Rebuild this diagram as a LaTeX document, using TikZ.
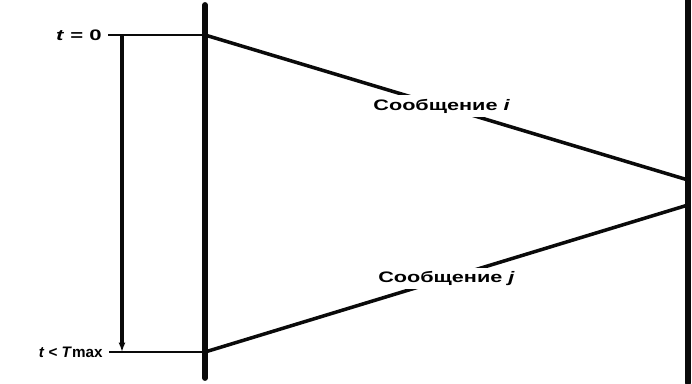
\documentclass[tikz,border=0pt]{standalone}
\usepackage{fontspec}
\setmainfont{Liberation Sans}
\usetikzlibrary{arrows.meta,calc,positioning}
\definecolor{InkCol}{RGB}{10,10,10}
\tikzset{
  lifeline/.style={line width=5.0pt, draw=InkCol, line cap=round},
  tickline/.style={line width=1.9pt, draw=InkCol},
  spanline/.style={-{Latex[length=8pt,width=6pt]}, line width=2.6pt, draw=InkCol},
  msgline/.style={line width=3.0pt, draw=InkCol},
  msglab/.style={fill=white, inner sep=3pt, font=\fontsize{13}{14}\selectfont\bfseries},
  timelab/.style={anchor=east, inner sep=1pt, font=\fontsize{13}{14}\selectfont\bfseries}
}
\newcommand{\Wide}[1]{\scalebox{1.45}[1]{#1}}
\newcommand{\Wider}[1]{\scalebox{1.42}[1]{#1}}

\begin{document}
\begin{tikzpicture}[x=0.03cm,y=-0.03cm]
  \useasboundingbox (0,0) rectangle (692,383);
  % processes
  \coordinate (Ltop) at (205,5);
  \coordinate (Lbot) at (205,378);
  \coordinate (Rtop) at (688,0);
  \coordinate (Rbot) at (688,383);
  \draw[lifeline] (Ltop) -- (Lbot);
  \draw[lifeline] (Rtop) -- (Rbot);
  % time marks
  \node[timelab] (tstart) at (103,35) {\Wide{\textit{t} = 0}};
  \node[timelab] (tend) at (104,352) {\textit{t} < \textit{T}max};
  \coordinate (Sa) at (205,35);
  \coordinate (Sb) at (205,352);
  \draw[tickline] (tstart.east) ++(5,0) -- (Sa);
  \draw[tickline] (tend.east) ++(5,0) -- (Sb);
  \draw[spanline] (122,35) -- (122,352);
  % messages
  \coordinate (Ra) at (688,180);
  \coordinate (Rb) at (688,205);
  \draw[msgline] (Sa) -- (Ra) node[msglab,pos=0.49] (mi) {\Wider{Сообщение \textit{i}}};
  \draw[msgline] (Rb) -- (Sb) node[msglab,pos=0.5] (mj) {\Wider{Сообщение \textit{j}}};
\end{tikzpicture}
\end{document}
